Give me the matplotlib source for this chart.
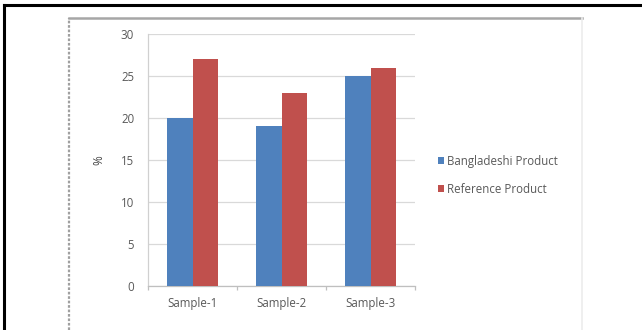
import matplotlib
matplotlib.use("Agg")
import matplotlib.pyplot as plt
from matplotlib.lines import Line2D
import numpy as np

categories = ["Sample-1", "Sample-2", "Sample-3"]
bangladeshi = [20, 19, 25]
reference = [27, 23, 26]
series_names = ["Bangladeshi Product", "Reference Product"]
y_ticks = [0, 5, 10, 15, 20, 25, 30]

W, H = 642, 330
fig = plt.figure(figsize=(W / 100, H / 100), dpi=100)
fig.patch.set_facecolor("white")

# page frame: black rule on top and left
fig.add_artist(Line2D([4 / W, 1], [1 - 5 / H] * 2, color="black", lw=2.2, transform=fig.transFigure))
fig.add_artist(Line2D([4 / W] * 2, [0, 1 - 5 / H], color="black", lw=2.2, transform=fig.transFigure))
# chart container border
fig.add_artist(Line2D([69 / W, 582 / W], [1 - 17.5 / H] * 2, color="#a6a6a6", lw=1.8, transform=fig.transFigure))
fig.add_artist(Line2D([69 / W] * 2, [0, 1 - 17.5 / H], color="#a0a0a0", lw=1.6, ls=(0, (1.2, 0.8)), transform=fig.transFigure))
fig.add_artist(Line2D([582 / W] * 2, [0, 1 - 17.5 / H], color="#ececec", lw=1.2, transform=fig.transFigure))

left, right, top, bottom = 148, 415, 34, 286
ax = fig.add_axes([left / W, 1 - bottom / H, (right - left) / W, (bottom - top) / H])

x = np.arange(len(categories))
bw = 0.287
text_color = "#595959"
font = "Open Sans"
fs = 8.3

b1 = ax.bar(x - bw / 2, bangladeshi, bw, color="#4F81BD", label=series_names[0], zorder=3)
b2 = ax.bar(x + bw / 2, reference, bw, color="#C0504D", label=series_names[1], zorder=3)

ax.set_xlim(-0.5, len(categories) - 0.5)
ax.set_ylim(0, 30)
ax.set_yticks(y_ticks)
ax.set_yticklabels([str(t) for t in y_ticks], fontsize=fs, color=text_color, family=font)
ax.yaxis.grid(True, color="#d9d9d9", lw=0.9, zorder=0)
ax.tick_params(axis="y", length=0, pad=10)

ax.set_xticks(x)
ax.set_xticklabels(categories, fontsize=fs, color=text_color, family=font)
ax.tick_params(axis="x", length=0, pad=8)
ax.set_xticks(np.arange(-0.5, len(categories), 1), minor=True)
ax.tick_params(axis="x", which="minor", length=3, color="#bfbfbf", width=0.9)

for s in ["top", "right"]:
    ax.spines[s].set_visible(False)
ax.spines["left"].set_color("#d0d0d0")
ax.spines["bottom"].set_color("#bfbfbf")
ax.spines["left"].set_linewidth(0.9)
ax.spines["bottom"].set_linewidth(0.9)

fig.text(99 / W, 1 - 160 / H, "%", rotation=90, fontsize=8.5, color="#404040",
         family=font, ha="center", va="center")

leg = fig.legend(handles=[b1, b2], labels=series_names, loc="center left",
                 bbox_to_anchor=(438 / W, 1 - 175.5 / H), frameon=False,
                 handlelength=0.55, handleheight=0.55, handletextpad=0.25,
                 labelspacing=1.3, borderpad=0, borderaxespad=0,
                 prop={"family": font, "size": fs})
for t in leg.get_texts():
    t.set_color(text_color)

fig.savefig("out.png", dpi=100, facecolor="white")
